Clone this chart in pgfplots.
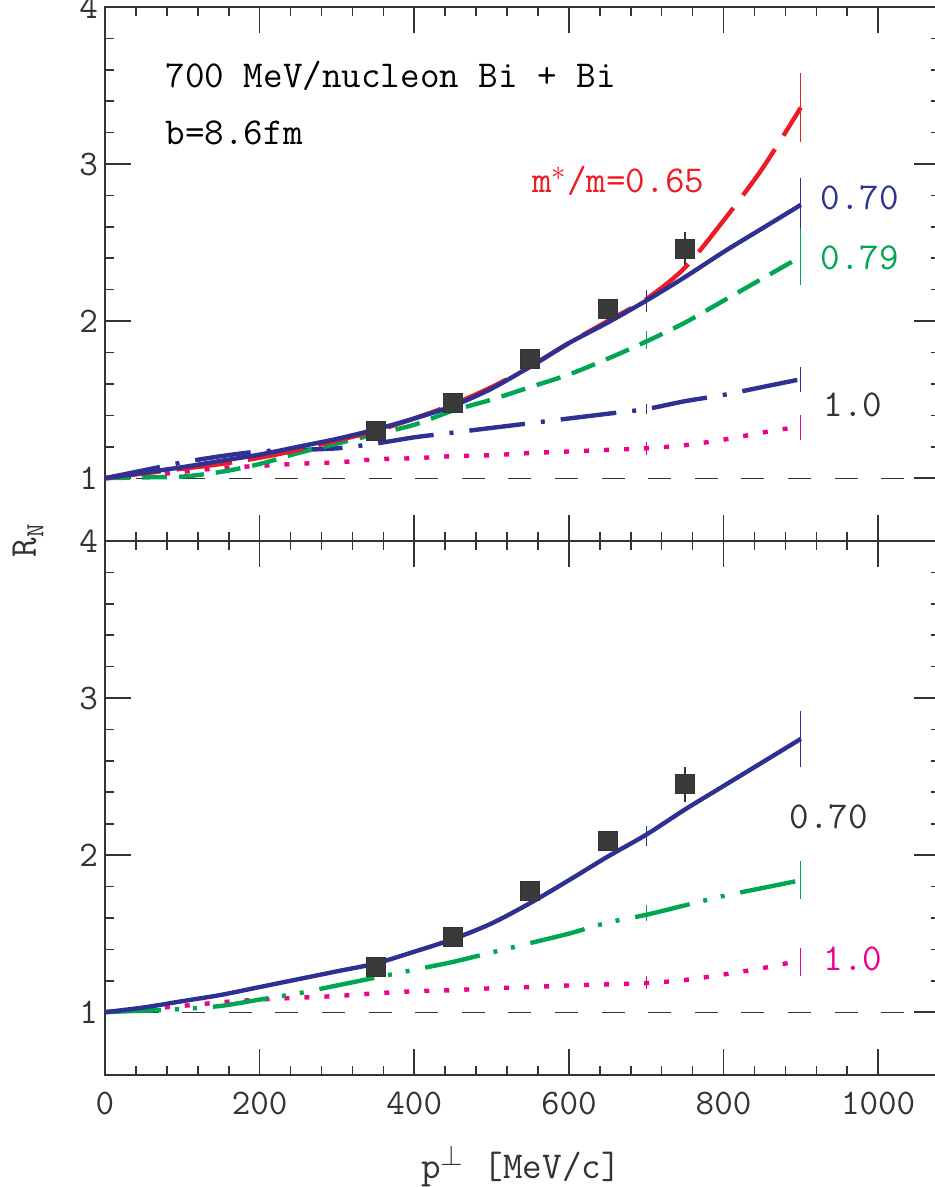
\documentclass[border=0pt]{standalone}
\usepackage{fontspec}
\usepackage{pgfplots}
\pgfplotsset{compat=1.18}
\definecolor{cblue}{HTML}{2E3192}
\definecolor{cred}{HTML}{ED1C24}
\definecolor{cgreen}{HTML}{00A651}
\definecolor{cmag}{HTML}{EC008C}
\definecolor{cgray}{HTML}{333333}
\definecolor{cbox}{HTML}{3A3A3A}

\pgfplotstableread{
x y
0 1.00
50 1.03
100 1.06
150 1.09
200 1.13
250 1.18
300 1.24
350 1.30
400 1.38
450 1.47
500 1.58
550 1.71
600 1.86
650 2.00
700 2.14
750 2.34
800 2.64
850 2.97
900 3.36
}\topred
\pgfplotstableread{
x y
0 1.00
50 1.035
100 1.07
150 1.11
200 1.15
250 1.20
300 1.25
350 1.31
400 1.38
450 1.46
500 1.57
550 1.71
600 1.86
650 1.99
700 2.13
750 2.28
800 2.44
850 2.59
900 2.74
}\topblue
\pgfplotstableread{
x y
0 1.00
50 1.005
100 1.01
150 1.04
200 1.09
250 1.16
300 1.22
350 1.28
400 1.34
450 1.43
500 1.50
550 1.58
600 1.66
650 1.76
700 1.87
750 1.99
800 2.13
850 2.27
900 2.41
}\topgreen
\pgfplotstableread{
x y
0 1.00
50 1.05
100 1.10
150 1.14
200 1.17
250 1.18
300 1.19
350 1.22
400 1.26
450 1.29
500 1.32
550 1.35
600 1.38
650 1.41
700 1.44
750 1.49
800 1.53
850 1.58
900 1.63
}\topdashdot
\pgfplotstableread{
x y
0 1.00
50 1.015
100 1.04
150 1.065
200 1.078
250 1.092
300 1.10
350 1.12
400 1.127
450 1.14
500 1.146
550 1.16
600 1.17
650 1.18
700 1.19
750 1.21
800 1.245
850 1.29
900 1.33
}\topmag
\pgfplotstableread{
x y
0 1.00
50 1.03
100 1.07
150 1.11
200 1.16
250 1.21
300 1.26
350 1.31
400 1.385
450 1.465
500 1.565
550 1.695
600 1.84
650 1.99
700 2.13
750 2.29
800 2.44
850 2.59
900 2.74
}\botblue
\pgfplotstableread{
x y
0 1.00
50 1.01
100 1.02
150 1.04
200 1.08
250 1.12
300 1.17
350 1.22
400 1.27
450 1.32
500 1.38
550 1.44
600 1.50
650 1.57
700 1.62
750 1.68
800 1.74
850 1.79
900 1.84
}\botgreen
\pgfplotstableread{
x y
0 1.00
50 1.02
100 1.04
150 1.063
200 1.08
250 1.092
300 1.103
350 1.12
400 1.133
450 1.14
500 1.152
550 1.16
600 1.17
650 1.177
700 1.185
750 1.205
800 1.24
850 1.28
900 1.33
}\botmag

\pgfplotsset{
  panel/.style={
    scale only axis, width=417.5pt, height=267pt,
    xmin=0, xmax=1080, ymin=0.6, ymax=4,
    xtick={0,200,...,1000}, minor x tick num=4,
    ytick={1,2,3,4}, minor y tick num=4,
    tick align=inside, major tick length=13pt, minor tick length=4.5pt,
    axis line style={cgray, line width=1pt},
    every tick/.style={cgray, line width=0.8pt},
    tick label style={font=\fontsize{18}{20}\selectfont\ttfamily, text=cgray},
    /pgf/number format/assume math mode=true,
    /pgf/number format/1000 sep={},
    xticklabel style={yshift=-5pt},
    clip=false,
  },
  curve/.style={line width=2.2pt, smooth, line join=round},
  ebar/.style={draw=none, mark=none, forget plot,
    error bars/.cd, y dir=both, y explicit, error mark=none,
    error bar style={draw=#1, line width=0.6pt, solid}},
  dots/.style={only marks, mark=square*, mark size=4.75pt,
    mark options={fill=cbox, draw=cgray, line width=0.5pt},
    error bars/.cd, y dir=both, y explicit, error mark=none,
    error bar style={cgray, line width=0.8pt}},
}
\tikzset{lbl/.style={font=\fontsize{19}{21}\selectfont\ttfamily, anchor=base west, inner sep=0pt}}

\begin{document}
\begin{tikzpicture}
% bottom panel
\begin{axis}[panel, at={(0,0)}, anchor=south west]
\addplot[cgray, line width=0.6pt, dash pattern=on 11.5pt off 11.8pt, dash phase=8pt, forget plot] coordinates {(0,1) (1080,1)};
\addplot[dots] coordinates {(350,1.29) +- (0,0.03) (450,1.48) +- (0,0.04) (550,1.77) +- (0,0.05) (650,2.09) +- (0,0.06) (750,2.45) +- (0,0.11)};
\addplot[curve, cmag, dash pattern=on 2.5pt off 7.5pt] table {\botmag};
\addplot[curve, cgreen, dash pattern=on 28pt off 7pt on 2pt off 7pt on 2pt off 8pt] table {\botgreen};
\addplot[curve, cblue] table {\botblue};
\addplot[ebar=cblue] coordinates {(700,2.12) +- (0,0.065) (900,2.74) +- (0,0.18)};
\addplot[ebar=cgreen] coordinates {(700,1.63) +- (0,0.05) (900,1.84) +- (0,0.12)};
\addplot[ebar=cmag] coordinates {(700,1.19) +- (0,0.04) (900,1.32) +- (0,0.09)};
\node[lbl, text=cgray] at (axis cs:885,2.168) {0.70};
\node[lbl, text=cmag] at (axis cs:929,1.267) {1.0};
\end{axis}
% top panel
\begin{axis}[panel, at={(0,267pt)}, anchor=south west, xticklabels={}]
\addplot[cgray, line width=0.6pt, dash pattern=on 11.5pt off 11.8pt, dash phase=8pt, forget plot] coordinates {(0,1) (1080,1)};
\addplot[dots] coordinates {(350,1.30) +- (0,0.03) (450,1.48) +- (0,0.04) (550,1.76) +- (0,0.05) (650,2.08) +- (0,0.06) (750,2.46) +- (0,0.11)};
\addplot[curve, cmag, dash pattern=on 2.5pt off 7.5pt] table {\topmag};
\addplot[curve, cblue, dash pattern=on 28pt off 8pt on 2pt off 8pt] table {\topdashdot};
\addplot[curve, cgreen, dash pattern=on 12.5pt off 6pt] table {\topgreen};
\addplot[curve, cred, dash pattern=on 28pt off 8pt] table {\topred};
\addplot[curve, cblue] table {\topblue};
\addplot[ebar=cred] coordinates {(900,3.36) +- (0,0.22)};
\addplot[ebar=cblue] coordinates {(700,2.13) +- (0,0.07) (900,2.74) +- (0,0.17)};
\addplot[ebar=cgreen] coordinates {(700,1.88) +- (0,0.06) (900,2.41) +- (0,0.18)};
\addplot[ebar=cblue] coordinates {(700,1.44) +- (0,0.03) (900,1.63) +- (0,0.08)};
\addplot[ebar=cmag] coordinates {(700,1.19) +- (0,0.04) (900,1.32) +- (0,0.08)};
\node[lbl, text=black] at (axis cs:78,3.486) {700 MeV/nucleon Bi + Bi};
\node[lbl, text=black] at (axis cs:78,3.123) {b=8.6fm};
\node[lbl, text=cred] at (axis cs:552,2.818) {m$^{*}$/m=0.65};
\node[lbl, text=cblue] at (axis cs:925,2.71) {0.70};
\node[lbl, text=cgreen] at (axis cs:925,2.33) {0.79};
\node[lbl, text=cgray] at (axis cs:929,1.394) {1.0};
\end{axis}
\node[rotate=90, font=\fontsize{19}{21}\selectfont\ttfamily, text=cgray] at (-38.5pt,267pt) {R\raisebox{-0.45ex}{\fontsize{13}{13}\selectfont N}};
\node[font=\fontsize{19}{21}\selectfont\ttfamily, text=cgray, anchor=base] at (208pt,-51.5pt) {p$^{\perp}$ [MeV/c]};
\pgfresetboundingbox
\useasboundingbox (-52.5pt,-56pt) rectangle (415pt,537.5pt);
\end{tikzpicture}
\end{document}
